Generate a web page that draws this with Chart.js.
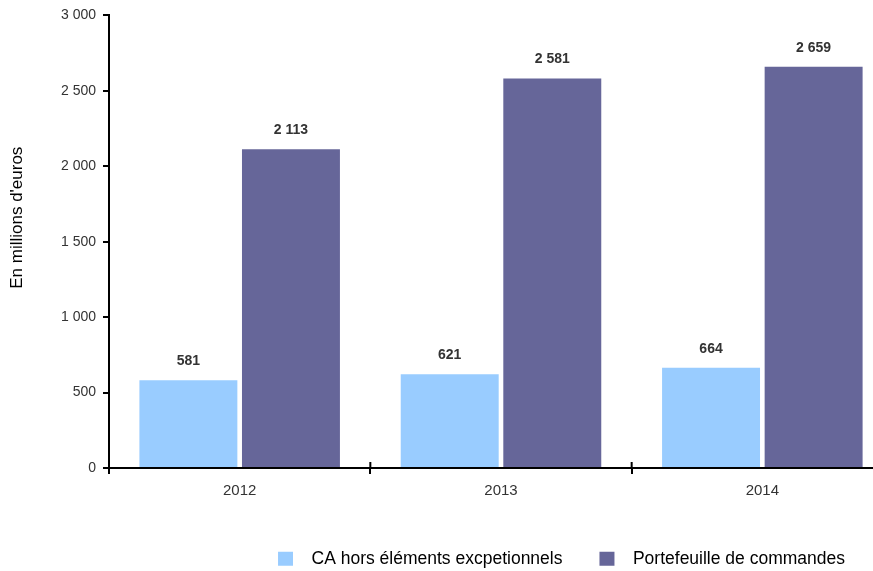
<!DOCTYPE html>
<html>
<head>
<meta charset="utf-8">
<script src="https://cdn.jsdelivr.net/npm/chart.js@4.4.1/dist/chart.umd.min.js"></script>
<style>
  html, body { margin: 0; padding: 0; overflow: hidden; background: #fff; }
  #wrap { width: 893px; height: 571px; }
</style>
</head>
<body>
<div id="wrap"><canvas id="chart" width="893" height="571"></canvas></div>
<script>
const years = ['2012', '2013', '2014']
const caValues = [581, 621, 664]
const orderValues = [2113, 2581, 2659]
const seriesNames = ['CA hors éléments excpetionnels', 'Portefeuille de commandes']
const yTitle = "En millions d'euros"

const FONT = '"Liberation Sans", Arial, sans-serif'

function fmt(v) {
  return String(v).replace(/\B(?=(\d{3})+(?!\d))/g, ' ')
}

// value labels above each bar
const barLabels = {
  id: 'barLabels',
  afterDatasetsDraw(chart) {
    const ctx = chart.ctx
    ctx.save()
    ctx.font = 'bold 14px ' + FONT
    ctx.fillStyle = '#333'
    ctx.textAlign = 'center'
    ctx.textBaseline = 'middle'
    chart.data.datasets.forEach((ds, i) => {
      chart.getDatasetMeta(i).data.forEach((bar, j) => {
        ctx.fillText(fmt(ds.data[j]), bar.x, bar.y - 19)
      })
    })
    ctx.restore()
  },
}

// axis title drawn a bit above the middle, and tick marks crossing the x axis
const axisExtras = {
  id: 'axisExtras',
  afterDraw(chart) {
    const ctx = chart.ctx
    const area = chart.chartArea
    const x = chart.scales.x
    ctx.save()
    ctx.strokeStyle = '#000'
    ctx.lineWidth = 2
    for (let i = 1; i < years.length; i++) {
      const px = (x.getPixelForValue(i - 1) + x.getPixelForValue(i)) / 2
      ctx.beginPath()
      ctx.moveTo(px, area.bottom - 6)
      ctx.lineTo(px, area.bottom)
      ctx.stroke()
    }
    ctx.translate(17, area.top + (area.bottom - area.top) * 0.447)
    ctx.rotate(-Math.PI / 2)
    ctx.font = '17px ' + FONT
    ctx.fillStyle = '#000'
    ctx.textAlign = 'center'
    ctx.textBaseline = 'middle'
    ctx.fillText(yTitle, 0, 0)
    ctx.restore()
  },
}

// move legend towards the right like the original
const legendPlace = {
  id: 'legendPlace',
  afterLayout(chart) {
    chart.legend.right = 882
  },
}

new Chart(document.getElementById('chart'), {
  type: 'bar',
  data: {
    labels: years,
    datasets: [
      {
        label: seriesNames[0],
        data: caValues,
        backgroundColor: '#99ccff',
        barPercentage: 0.955,
        categoryPercentage: 0.785,
      },
      {
        label: seriesNames[1],
        data: orderValues,
        backgroundColor: '#666699',
        barPercentage: 0.955,
        categoryPercentage: 0.785,
      },
    ],
  },
  plugins: [barLabels, axisExtras, legendPlace],
  options: {
    responsive: false,
    animation: false,
    layout: { padding: { top: 15, right: 0, bottom: 0, left: 0 } },
    plugins: {
      tooltip: { enabled: false },
      legend: {
        position: 'bottom',
        align: 'end',
        maxHeight: 58,
        labels: {
          boxWidth: 15,
          boxHeight: 14,
          padding: 37,
          color: '#000',
          font: { family: FONT, size: 17.5 },
          generateLabels(chart) {
            const items = Chart.defaults.plugins.legend.labels.generateLabels(chart)
            items.forEach((it) => { it.text = '  ' + it.text; it.lineWidth = 0 })
            return items
          },
        },
      },
    },
    scales: {
      x: {
        afterFit(scale) { scale.height = 45 },
        border: { color: '#000', width: 2 },
        grid: { offset: true, drawOnChartArea: false, tickLength: 6, color: '#000', lineWidth: 2 },
        ticks: {
          color: '#333',
          padding: 8,
          font: { family: FONT, size: 15 },
        },
      },
      y: {
        min: 0,
        max: 3000,
        afterFit(scale) { scale.width = 109 },
        border: { color: '#000', width: 2 },
        grid: { drawOnChartArea: false, tickLength: 6, color: '#000', lineWidth: 2 },
        ticks: {
          stepSize: 500,
          color: '#333',
          padding: 7,
          font: { family: FONT, size: 14 },
          callback: (v) => fmt(v),
        },
      },
    },
  },
})
</script>
</body>
</html>
